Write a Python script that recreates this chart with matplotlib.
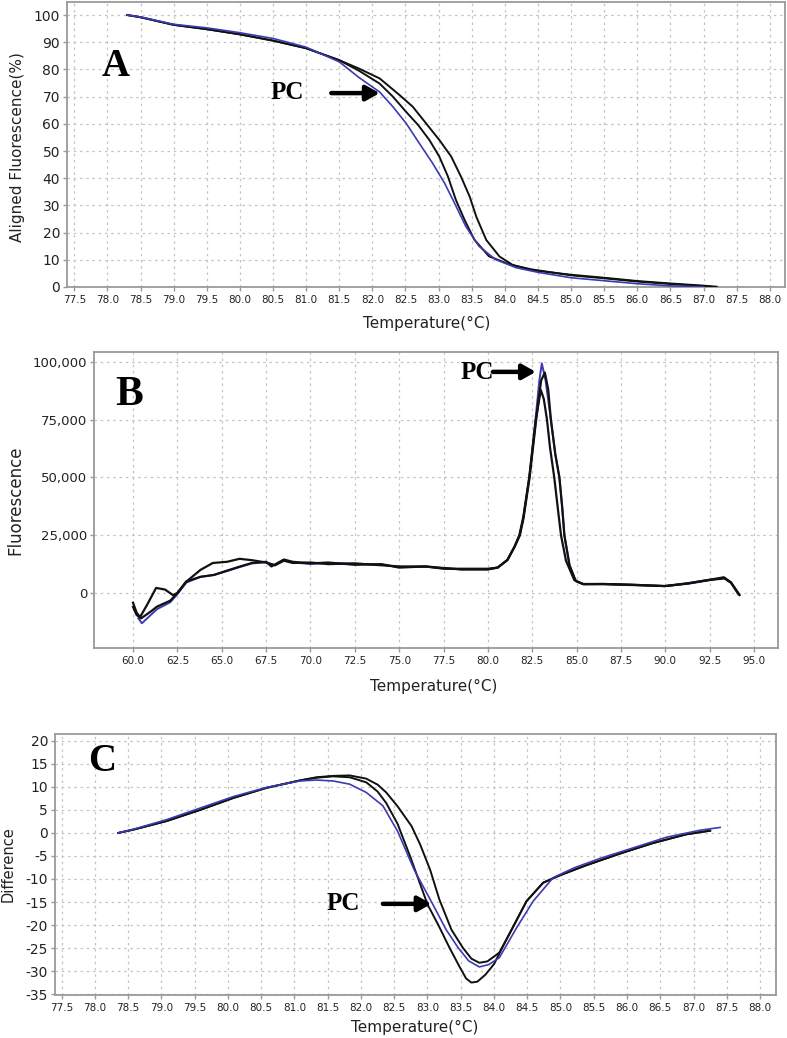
import matplotlib
matplotlib.use("Agg")
import matplotlib.pyplot as plt
import matplotlib.ticker as mticker

plt.rcParams['axes.unicode_minus'] = False

# ---------------- Panel A: aligned melt curves ----------------
a_black1_x = [78.3, 78.5, 79.0, 79.5, 80.0, 80.5, 81.0, 81.5, 81.8, 82.11, 82.41, 82.61, 82.81, 83.01, 83.19,
              83.34, 83.47, 83.57, 83.72, 83.92, 84.12, 84.4, 85.0, 85.5, 86.0, 86.5, 87.0, 87.2]
a_black1_y = [100, 99.2, 96.4, 94.8, 92.9, 90.6, 87.8, 83.4, 80.3, 76.7, 70.6, 66.3, 60.2, 54.1, 48.0,
              40.5, 33.2, 25.8, 17.3, 11.2, 8.1, 6.2, 4.5, 3.4, 2.2, 1.3, 0.5, 0.1]
a_black2_x = [78.3, 78.5, 79.0, 79.5, 80.0, 80.5, 81.0, 81.5, 81.8, 82.11, 82.31, 82.51, 82.69, 82.86, 83.01,
              83.14, 83.26, 83.39, 83.54, 83.76, 84.07, 84.4, 85.0, 85.5, 86.0, 86.5, 87.0, 87.15]
a_black2_y = [100, 99.2, 96.4, 94.8, 92.9, 90.6, 87.8, 83.4, 79.5, 74.8, 70.0, 64.4, 59.6, 54.1, 48.0,
              40.7, 32.1, 24.8, 17.4, 11.3, 8.3, 6.5, 4.3, 3.2, 2.0, 1.1, 0.3, 0]
a_blue_x = [78.3, 78.5, 79.0, 79.5, 80.0, 80.5, 81.0, 81.5, 81.8, 82.11, 82.31, 82.51, 82.71, 82.91, 83.09,
            83.24, 83.41, 83.61, 83.86, 84.17, 84.5, 85.0, 85.5, 86.0, 86.5, 87.0]
a_blue_y = [100, 99.3, 96.6, 95.3, 93.5, 91.4, 88.2, 82.8, 77.0, 71.7, 66.3, 60.2, 52.8, 45.5, 38.2,
            30.9, 22.3, 15.0, 10.1, 7.1, 5.4, 3.4, 2.3, 1.2, 0.4, 0]
a_xticks = [77.5 + 0.5 * i for i in range(22)]
a_yticks = [0, 10, 20, 30, 40, 50, 60, 70, 80, 90, 100]

# ---------------- Panel B: derivative melt peaks ----------------
b_black1_x = [60.0, 60.2, 60.4, 60.8, 61.3, 61.8, 62.25, 62.5, 63.0, 63.8, 64.5, 65.3, 66.0, 66.7, 67.5, 68.0,
              68.5, 69.0, 70.0, 71.0, 72.5, 74.0, 75.0, 76.5, 77.5, 78.5, 80.0, 80.55, 81.1, 81.5, 81.77,
              82.0, 82.33, 82.7, 82.98, 83.15, 83.33, 83.5, 83.74, 83.95, 84.12, 84.4, 84.87, 85.34, 86.5,
              88.0, 89.96, 91.27, 92.4, 93.34, 93.7, 94.18]
b_black1_y = [-4200, -8500, -10400, -5000, 2200, 1500, -900, 0, 4900, 10000, 13000, 13500, 14800, 14200, 13200,
              12000, 14000, 13000, 13200, 12500, 12800, 12000, 11500, 11500, 10500, 10500, 10500, 11000, 14300,
              20000, 25000, 33000, 50000, 75000, 87900, 84000, 75000, 63000, 50000, 36000, 25000, 14000, 5600,
              3900, 3900, 3600, 3000, 4200, 5600, 6300, 4400, -900]
b_black2_x = [60.0, 60.2, 60.45, 61.0, 61.35, 62.1, 62.5, 63.0, 63.8, 64.55, 65.3, 66.0, 66.7, 67.5, 67.8,
              68.5, 69.0, 70.0, 71.0, 72.5, 74.0, 75.0, 76.5, 77.5, 78.5, 80.0, 80.55, 81.1, 81.5, 81.8, 82.0,
              82.35, 82.72, 83.0, 83.21, 83.4, 83.55, 83.8, 84.03, 84.2, 84.31, 84.6, 84.95, 85.4, 86.5, 88.0,
              90.0, 91.3, 92.4, 93.3, 93.7, 94.15]
b_black2_y = [-6000, -9500, -11000, -8000, -5900, -3300, 0, 5000, 7000, 7800, 9700, 11400, 13000, 13500, 11500,
              14500, 13500, 12800, 13200, 12200, 12500, 11000, 11500, 10800, 10200, 10200, 11000, 14300, 20000,
              25000, 32000, 50000, 75000, 92000, 95400, 88000, 75000, 60000, 50000, 36000, 25000, 12000, 5200,
              3800, 3900, 3600, 3000, 4200, 5600, 6800, 4600, -500]
b_blue_x = [60.3, 60.5, 61.0, 61.35, 62.1, 62.5, 63.0, 63.8, 64.55, 65.3, 66.0, 66.7, 67.5, 68.0, 68.5, 69.0,
            70.0, 71.0, 72.5, 74.0, 75.0, 76.5, 77.5, 78.5, 80.0, 80.55, 81.1, 81.5, 81.8, 82.0, 82.33, 82.68,
            82.9, 83.04, 83.25, 83.55, 83.8, 84.03, 84.2, 84.31, 84.6, 84.95, 85.4, 86.5, 88.0, 90.0, 91.3,
            92.4, 93.3, 93.7, 94.1]
b_blue_y = [-11000, -13100, -9500, -7000, -4000, -500, 4500, 7000, 7800, 9500, 11200, 12800, 13300, 12000,
            14200, 13200, 12600, 13000, 12700, 12300, 11200, 11300, 10800, 10200, 10200, 11000, 14300, 20000,
            25000, 33000, 50000, 75000, 92000, 99400, 92000, 75000, 60000, 50000, 36000, 25000, 12000, 5200,
            3800, 3800, 3400, 3000, 4000, 5400, 6600, 4600, -500]
b_xticks = [60.0 + 2.5 * i for i in range(15)]
b_yticks = [0, 25000, 50000, 75000, 100000]

# ---------------- Panel C: difference plot ----------------
c_black1_x = [78.35, 78.6, 79.08, 79.58, 80.08, 80.58, 81.08, 81.33, 81.58, 81.83, 82.08, 82.25, 82.38, 82.55,
              82.76, 82.89, 83.04, 83.18, 83.36, 83.53, 83.66, 83.78, 83.9, 84.08, 84.28, 84.49, 84.74, 84.99,
              85.39, 85.89, 86.39, 86.89, 87.25]
c_black1_y = [0, 0.8, 2.6, 5.0, 7.6, 9.8, 11.4, 12.1, 12.4, 12.5, 11.8, 10.5, 8.8, 5.8, 1.5, -2.5, -8.0,
              -14.5, -21.0, -24.9, -27.3, -28.2, -27.9, -26.0, -20.6, -14.8, -10.8, -9.2, -7.0, -4.5, -2.2,
              -0.3, 0.5]
c_black2_x = [78.35, 78.6, 79.08, 79.58, 80.08, 80.58, 81.08, 81.33, 81.58, 81.83, 82.08, 82.25, 82.38, 82.55,
              82.75, 83.0, 83.16, 83.33, 83.48, 83.58, 83.66, 83.75, 83.87, 84.0, 84.14, 84.28, 84.49, 84.74,
              84.99, 85.39, 85.89, 86.39, 86.89, 87.25]
c_black2_y = [0, 0.8, 2.6, 5.0, 7.6, 9.8, 11.4, 12.0, 12.3, 12.1, 11.0, 9.0, 6.5, 2.0, -5.5, -15.5, -19.9,
              -24.9, -29.0, -31.6, -32.5, -32.3, -30.8, -28.5, -24.5, -20.6, -14.8, -10.8, -9.2, -7.0, -4.5,
              -2.2, -0.3, 0.5]
c_blue_x = [78.35, 78.6, 79.08, 79.58, 80.08, 80.58, 81.08, 81.33, 81.58, 81.83, 82.08, 82.33, 82.55, 82.8,
            83.08, 83.28, 83.46, 83.62, 83.78, 83.92, 84.08, 84.34, 84.59, 84.89, 85.2, 85.6, 86.1, 86.6,
            87.1, 87.4]
c_blue_y = [0, 0.9, 2.9, 5.4, 7.9, 9.9, 11.3, 11.5, 11.3, 10.6, 8.8, 5.9, 0.4, -8.0, -15.5, -21.0, -24.9,
            -27.8, -29.1, -28.6, -27.1, -20.6, -14.8, -9.7, -7.6, -5.5, -3.2, -0.9, 0.6, 1.2]
c_xticks = [77.5 + 0.5 * i for i in range(22)]
c_yticks = [-35, -30, -25, -20, -15, -10, -5, 0, 5, 10, 15, 20]
c_yticklabels = ["-35", "-30", "-25", "-20", "-15", "-10", "-5", "0", "5", "10", "15", "20"]

BLUE = "#3b3bb3"
BLACK = "#111111"
SPINE = "#9a9a9a"
GRID = "#c4c4c4"
XT_FONT = ['Liberation Sans Narrow', 'DejaVu Sans']
SERIF = ['Liberation Serif', 'DejaVu Serif']

W, H = 787, 1038
fig = plt.figure(figsize=(W / 100, H / 100), dpi=100)


def px_axes(l, t, r, b):
    return fig.add_axes([l / W, 1 - b / H, (r - l) / W, (b - t) / H])


def style(ax, xticks, yticks, ytlabels, ysize, xsize):
    ax.set_xticks(xticks)
    ax.set_yticks(yticks)
    ax.set_yticklabels(ytlabels)
    ax.xaxis.set_major_formatter(mticker.FormatStrFormatter('%.1f'))
    for s in ax.spines.values():
        s.set_color(SPINE)
        s.set_linewidth(1.3)
    ax.tick_params(axis='both', colors=SPINE, length=3, width=1, labelcolor="#222222")
    ax.tick_params(axis='y', labelsize=ysize, pad=2)
    ax.tick_params(axis='x', labelsize=xsize, pad=3)
    for lab in ax.get_xticklabels():
        lab.set_family(XT_FONT)
    ax.grid(True, color=GRID, linestyle=(0, (2, 3)), linewidth=0.9)
    ax.set_axisbelow(True)


lw = 1.4
ARROW = dict(arrowstyle='-|>,head_length=0.8,head_width=0.45', lw=3.2, color='k', shrinkA=0, shrinkB=0)

# Panel A
axA = px_axes(67, 2, 785, 287)
axA.plot(a_black1_x, a_black1_y, color=BLACK, lw=lw, zorder=3)
axA.plot(a_black2_x, a_black2_y, color=BLACK, lw=lw, zorder=3)
axA.plot(a_blue_x, a_blue_y, color=BLUE, lw=1.2, zorder=4)
axA.set_xlim(77.39, 88.23)
axA.set_ylim(0, 104.8)
style(axA, a_xticks, a_yticks, [str(v) for v in a_yticks], 10, 7.5)
axA.text(78.12, 81, "A", family=SERIF, fontweight='bold', fontsize=28, ha='center', va='center')
axA.text(80.72, 71.5, "PC", family=SERIF, fontweight='bold', fontsize=18, ha='center', va='center')
axA.annotate("", xy=(82.11, 71.3), xytext=(81.38, 71.3), arrowprops=ARROW)
fig.text(18 / W, 1 - 147 / H, "Aligned Fluorescence(%)", rotation=90, fontsize=11,
         ha='center', va='center', color="#222222")
fig.text(427 / W, 1 - 323 / H, "Temperature(°C)", fontsize=11, ha='center', va='center', color="#222222")

# Panel B
axB = px_axes(94, 352, 778, 648)
axB.plot(b_black1_x, b_black1_y, color=BLACK, lw=1.6, zorder=3)
axB.plot(b_black2_x, b_black2_y, color=BLACK, lw=1.6, zorder=3)
axB.plot(b_blue_x, b_blue_y, color=BLUE, lw=1.4, zorder=2)
axB.set_xlim(57.8, 96.35)
axB.set_ylim(-23800, 104300)
style(axB, b_xticks, b_yticks, ["{:,}".format(v) for v in b_yticks], 9.5, 7.5)
axB.text(59.8, 85500, "B", family=SERIF, fontweight='bold', fontsize=30, ha='center', va='center')
axB.text(79.38, 95500, "PC", family=SERIF, fontweight='bold', fontsize=18, ha='center', va='center')
axB.annotate("", xy=(82.7, 95700), xytext=(80.28, 95700), arrowprops=ARROW)
fig.text(15 / W, 1 - 500 / H, "Fluorescence", rotation=90, fontsize=12,
         ha='center', va='center', color="#222222")
fig.text(434 / W, 1 - 686 / H, "Temperature(°C)", fontsize=11, ha='center', va='center', color="#222222")

# Panel C
axC = px_axes(55, 734, 776, 995)
axC.plot(c_black1_x, c_black1_y, color=BLACK, lw=lw, zorder=3)
axC.plot(c_black2_x, c_black2_y, color=BLACK, lw=lw, zorder=3)
axC.plot(c_blue_x, c_blue_y, color=BLUE, lw=1.2, zorder=4)
axC.set_xlim(77.40, 88.24)
axC.set_ylim(-35.2, 21.5)
style(axC, c_xticks, c_yticks, c_yticklabels, 10, 7.5)
axC.text(78.11, 15.5, "C", family=SERIF, fontweight='bold', fontsize=28, ha='center', va='center')
axC.text(81.73, -15.4, "PC", family=SERIF, fontweight='bold', fontsize=18, ha='center', va='center')
axC.annotate("", xy=(83.06, -15.4), xytext=(82.33, -15.4), arrowprops=ARROW)
fig.text(8.5 / W, 1 - 864 / H, "Difference", rotation=90, fontsize=10.5,
         ha='center', va='center', color="#222222")
fig.text(415 / W, 1 - 1027 / H, "Temperature(°C)", fontsize=11, ha='center', va='center', color="#222222")

fig.savefig("out.png", dpi=100, facecolor="white")
